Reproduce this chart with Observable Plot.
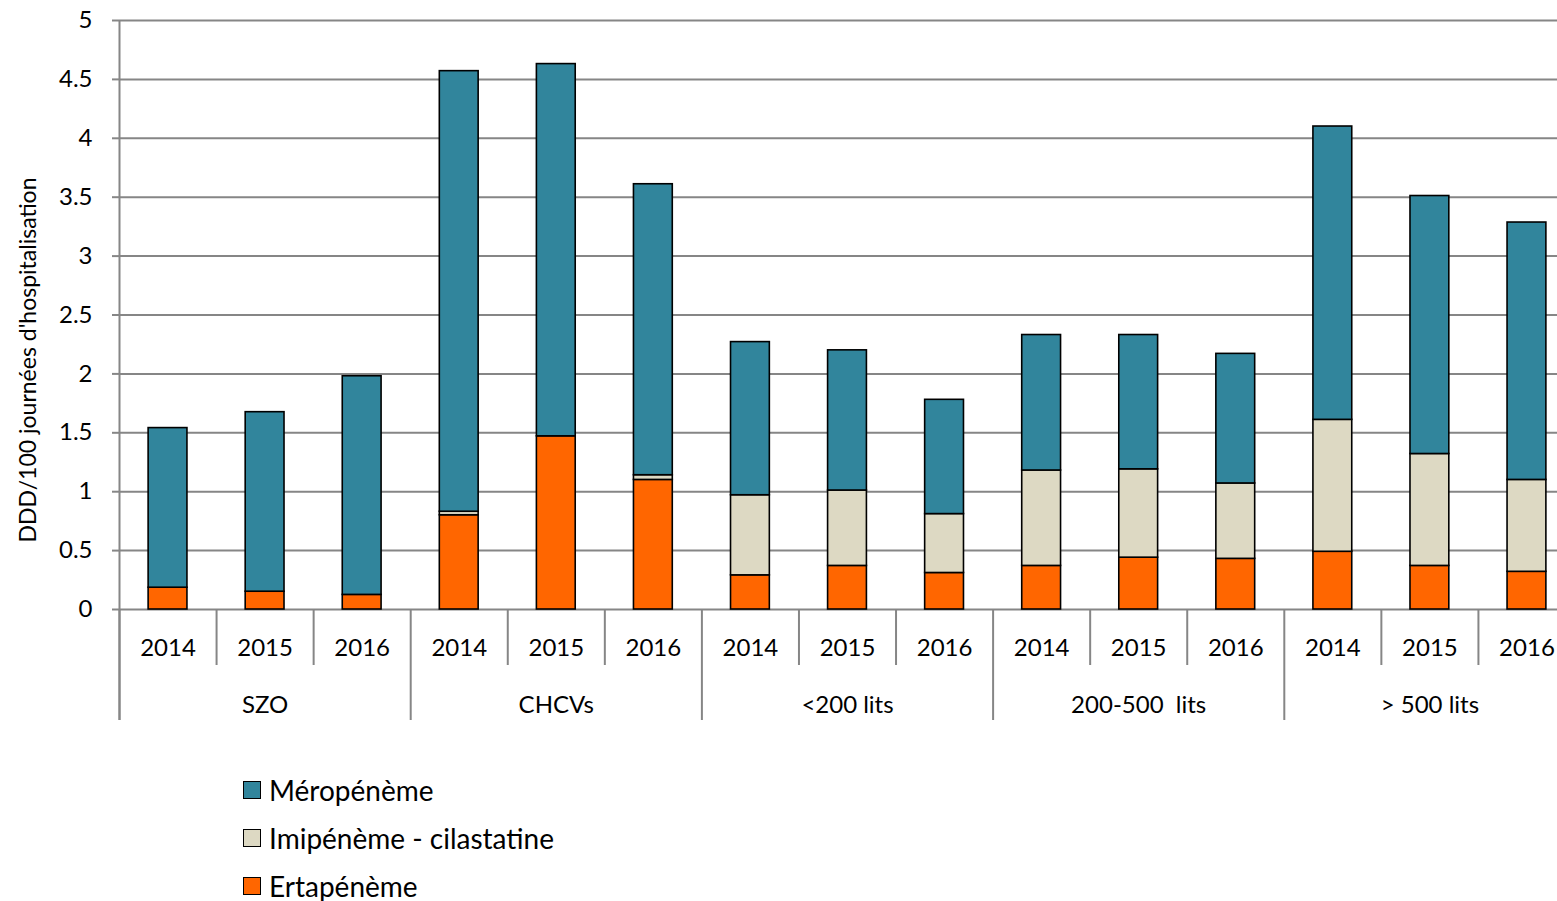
<!DOCTYPE html>
<html>
<head>
<meta charset="utf-8">
<script src="https://cdn.jsdelivr.net/npm/d3@7"></script>
<script src="https://cdn.jsdelivr.net/npm/@observablehq/plot@0.6"></script>
<style>
  html, body { margin: 0; padding: 0; background: #fff; overflow: hidden; }
  body { font-family: Lato, "Open Sans", sans-serif; }
  svg text { white-space: pre; }
  #legend { padding-left: 243px; padding-top: 36px; }
  .row { display: flex; align-items: center; height: 48px; font-size: 28px; color: #000; }
  .sw { width: 16px; height: 16px; border: 1.5px solid #000; margin-right: 8px; }
</style>
</head>
<body>
<div id="chart"></div>
<div id="legend"></div>
<script>
const groups = ["SZO", "CHCVs", "<200 lits", "200-500  lits", "> 500 lits"];
const years = ["2014", "2015", "2016"];
const drugs = ["Ertapénème", "Imipénème - cilastatine", "Méropénème"];
const colors = ["#FF6600", "#DDD9C3", "#31859C"];
const ertapeneme = [0.185, 0.151, 0.124, 0.80, 1.47, 1.10, 0.29, 0.37, 0.31, 0.37, 0.44, 0.43, 0.49, 0.37, 0.32];
const imipeneme  = [0, 0, 0, 0.03, 0, 0.04, 0.68, 0.64, 0.50, 0.81, 0.75, 0.64, 1.12, 0.95, 0.78];
const meropeneme = [1.355, 1.524, 1.856, 3.74, 3.16, 2.47, 1.30, 1.19, 0.97, 1.15, 1.14, 1.10, 2.49, 2.19, 2.185];
const yTicks = [0, 0.5, 1, 1.5, 2, 2.5, 3, 3.5, 4, 4.5, 5];
const yLabel = "DDD/100 journées d'hospitalisation";

const series = [ertapeneme, imipeneme, meropeneme];
const cats = [];
groups.forEach((g, gi) => years.forEach((y, yi) => cats.push({ i: gi * 3 + yi, group: g, year: y })));
const rows = [];
cats.forEach(c => {
  let base = 0;
  series.forEach((s, k) => {
    const v = s[c.i];
    rows.push({ i: c.i, drug: drugs[k], y1: base, y2: base + v });
    base += v;
  });
});
const yearSeps = cats.slice(0, -1).map(c => c.i + 0.5).filter(v => (v + 0.5) % 3 !== 0);
const groupSeps = [-0.5].concat(groups.slice(0, -1).map((g, gi) => gi * 3 + 2.5));
const groupCenters = groups.map((g, gi) => ({ g, x: gi * 3 + 1 }));

const gray = "#868686";
const chart = Plot.plot({
  width: 1557,
  height: 730,
  marginLeft: 119,
  marginRight: 0,
  marginTop: 20,
  marginBottom: 121,
  style: { fontFamily: "Lato, 'Open Sans', sans-serif", color: "#000", background: "#fff" },
  x: { domain: [-0.5, 14.5], range: [119, 1575], axis: null },
  y: { domain: [0, 5] },
  color: { domain: drugs, range: colors },
  marks: [
    Plot.ruleY(yTicks, { stroke: gray, strokeWidth: 2 }),
    Plot.axisY({ ticks: yTicks, tickFormat: d => String(d), tickSize: 7, tickPadding: 20, fontSize: 24, label: null, stroke: gray, strokeWidth: 2, strokeOpacity: 1 }),
    Plot.ruleX([-0.5], { stroke: gray, strokeWidth: 2, insetBottom: -111 }),
    Plot.ruleX(yearSeps, { y1: 0, y2: 0, stroke: gray, strokeWidth: 2, insetBottom: -56 }),
    Plot.ruleX(groupSeps, { y1: 0, y2: 0, stroke: gray, strokeWidth: 2, insetBottom: -111 }),
    Plot.rectY(rows, { x1: d => d.i - 0.2, x2: d => d.i + 0.2, y1: "y1", y2: "y2", fill: "drug", stroke: "#000", strokeWidth: 1.6 }),
    Plot.text(cats, { x: "i", y: 0, text: "year", dy: 39, fontSize: 24, fill: "#000" }),
    Plot.text(groupCenters, { x: "x", y: 0, text: "g", dy: 96, fontSize: 24, fill: "#000" }),
    Plot.text([yLabel], { frameAnchor: "left", textAnchor: "middle", lineAnchor: "middle", rotate: -90, dx: -91, dy: 45, fontSize: 23, fill: "#000" })
  ]
});
document.getElementById("chart").appendChild(chart);

const legend = document.getElementById("legend");
[2, 1, 0].forEach(k => {
  const row = document.createElement("div");
  row.className = "row";
  const sw = document.createElement("div");
  sw.className = "sw";
  sw.style.background = colors[k];
  const t = document.createElement("span");
  t.textContent = drugs[k];
  row.appendChild(sw);
  row.appendChild(t);
  legend.appendChild(row);
});
</script>
</body>
</html>
